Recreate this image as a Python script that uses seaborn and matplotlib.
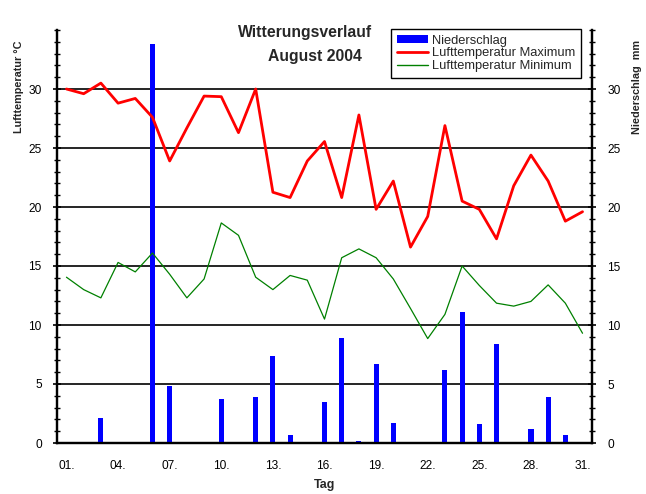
import matplotlib
matplotlib.use("Agg")
import matplotlib.pyplot as plt
import seaborn as sns
from matplotlib import font_manager
from matplotlib.patches import Patch
from matplotlib.lines import Line2D

# ---- data ----
days = list(range(1, 32))
tmax = [30.0, 29.6, 30.5, 28.8, 29.2, 27.6, 23.9, 26.7, 29.4, 29.35,
        26.3, 30.0, 21.25, 20.8, 23.9, 25.55, 20.8, 27.8, 19.8, 22.2,
        16.6, 19.2, 26.9, 20.5, 19.8, 17.3, 21.8, 24.4, 22.2, 18.8, 19.6]
tmin = [14.05, 13.0, 12.3, 15.3, 14.5, 16.1, 14.3, 12.3, 13.9, 18.65,
        17.6, 14.05, 13.0, 14.2, 13.8, 10.5, 15.7, 16.45, 15.7, 13.9,
        11.4, 8.85, 10.9, 15.0, 13.35, 11.85, 11.6, 12.0, 13.4, 11.85, 9.3]
precip = [0, 0, 2.1, 0, 0, 33.8, 4.8, 0, 0, 3.7,
          0, 3.9, 7.4, 0.7, 0, 3.5, 8.9, 0.2, 6.7, 1.7,
          0, 0, 6.2, 11.1, 1.6, 8.4, 0, 1.2, 3.9, 0.7, 0]
xtick_days = [1, 4, 7, 10, 13, 16, 19, 22, 25, 28, 31]
xtick_labels = ["01.", "04.", "07.", "10.", "13.", "16.", "19.", "22.", "25.", "28.", "31."]
ytick_values = [0, 5, 10, 15, 20, 25, 30]
legend_labels = ["Niederschlag", "Lufttemperatur Maximum", "Lufttemperatur Minimum"]

sns.set_theme(style="white")
plt.rcParams["font.family"] = ["Liberation Sans", "DejaVu Sans"]

tick_fs = 8.6
lab_fs = 7.8

W, H = 646, 494
fig = plt.figure(figsize=(W / 100, H / 100), dpi=100)
L, R, T, B = 57, 592, 30, 443
ax_t = fig.add_axes([L / W, 1 - B / H, (R - L) / W, (B - T) / H])
ax_p = ax_t.twinx()
ax_t.set_zorder(ax_p.get_zorder() + 1)
ax_t.patch.set_visible(False)

# precipitation bars (right axis)
sns.barplot(x=days, y=precip, native_scale=True, width=0.3, color="#0000ff",
            saturation=1, errorbar=None, linewidth=0, ax=ax_p, zorder=3)
# temperatures (left axis)
sns.lineplot(x=days, y=tmax, color="#ff0000", linewidth=2, ax=ax_t, legend=False)
sns.lineplot(x=days, y=tmin, color="#008000", linewidth=0.9, ax=ax_t, legend=False)

for ax in (ax_t, ax_p):
    ax.set_ylim(0, 35)
    ax.set_xlim(0.45, 31.55)
    ax.spines["top"].set_visible(False)
    for s in ax.spines.values():
        s.set_color("black")
        s.set_linewidth(1.6)

ax_p.set_yticks(ytick_values)
ax_p.set_yticks(range(0, 36), minor=True)
ax_p.yaxis.grid(True, which="major", color="black", linewidth=1.2, zorder=1)
ax_p.set_axisbelow(True)
ax_t.set_yticks(ytick_values)
ax_t.set_yticks(range(0, 36), minor=True)

ax_t.set_xticks(days)
ax_t.set_xticklabels([xtick_labels[xtick_days.index(d)] if d in xtick_days else "" for d in days])
ax_t.tick_params(axis="x", which="major", direction="out", length=5, width=1.2,
                 colors="black", labelsize=tick_fs, pad=7)
for ax in (ax_t, ax_p):
    ax.tick_params(axis="y", which="major", direction="inout", length=6, width=1.2,
                   colors="black", labelsize=tick_fs, pad=8)
    ax.tick_params(axis="y", which="minor", direction="inout", length=4, width=1.0,
                   colors="black", left=(ax is ax_t), right=(ax is ax_p))

ax_p.set_xlabel("")
ax_t.set_xlabel("Tag", fontsize=9, fontweight="bold", labelpad=5)
ax_t.set_ylabel("Lufttemperatur °C", fontsize=lab_fs, fontweight="bold")
ax_p.set_ylabel("Niederschlag  mm", fontsize=lab_fs, fontweight="bold")
ax_t.yaxis.set_label_coords(-0.062, 0.862)
ax_p.yaxis.set_label_coords(1.075, 0.862)

fig.text(305 / W, 1 - 33 / H, "Witterungsverlauf", ha="center", va="center",
         fontsize=11.3, fontweight="bold")
fig.text(315 / W, 1 - 56 / H, "August 2004", ha="center", va="center",
         fontsize=11.3, fontweight="bold")

handles = [Patch(facecolor="#0000ff", edgecolor="none"),
           Line2D([], [], color="#ff0000", linewidth=2),
           Line2D([], [], color="#008000", linewidth=1)]
leg = ax_t.legend(handles, legend_labels, loc="upper right",
                  bbox_to_anchor=(581 / W, 1 - 29 / H), bbox_transform=fig.transFigure,
                  borderaxespad=0, frameon=True, fancybox=False, framealpha=1,
                  edgecolor="black", fontsize=9.3, labelspacing=0.05,
                  handlelength=2.4, handleheight=0.6, handletextpad=0.3,
                  borderpad=0.45)
leg.get_frame().set_linewidth(1.0)

fig.savefig("out.png", dpi=100, facecolor="white")
